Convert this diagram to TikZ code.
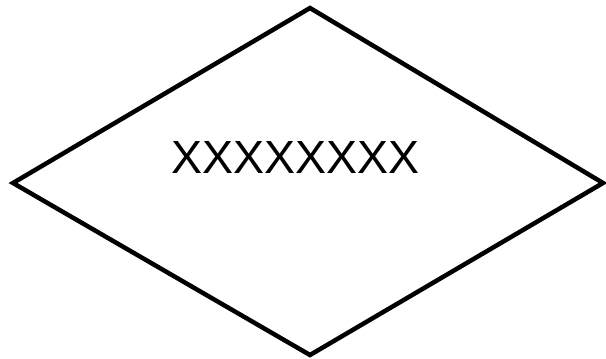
\documentclass[tikz,border=0pt]{standalone}
\usepackage{fontspec}
\setmainfont{Liberation Sans}

\begin{document}
\begin{tikzpicture}[x=1pt,y=-1pt,line cap=round,line join=miter,every node/.style={inner sep=0pt}]
  \useasboundingbox (0,0) rectangle (606,359);
  \def\w{4.5}
  \coordinate (top) at (310,8);
  \coordinate (left) at (13,183);
  \coordinate (right) at (603,183);
  \coordinate (bottom) at (310,355);
  \draw[line width=\w pt] (top) -- (right) -- (bottom) -- (left) -- cycle;
  \node[font=\fontsize{46.5}{50}\selectfont] (label) at (295.5,157.5) {XXXXXXXX};
\end{tikzpicture}
\end{document}
